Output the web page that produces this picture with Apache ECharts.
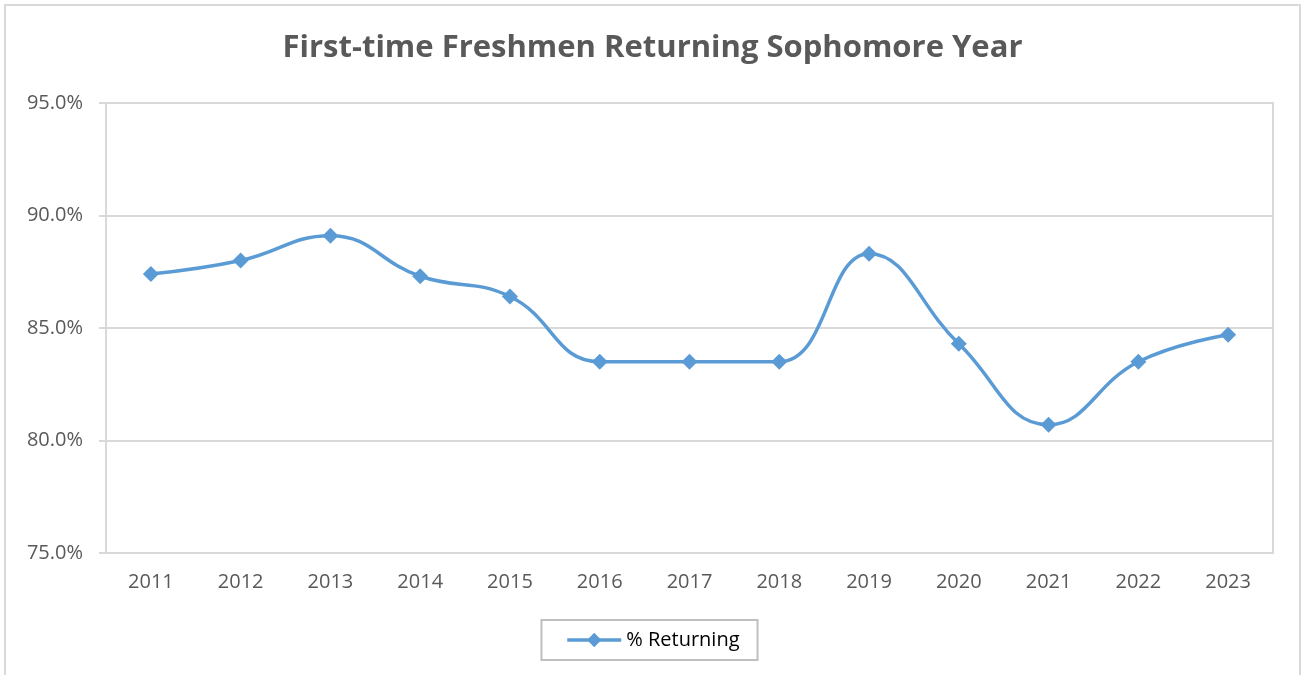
<!DOCTYPE html>
<html><head><meta charset="utf-8">
<script src="https://cdn.jsdelivr.net/npm/echarts@6/dist/echarts.min.js"></script>
<style>html,body{margin:0;padding:0;background:#fff}#c{width:1305px;height:675px}</style>
</head><body><div id="c"></div>
<script>
const years = ['2011','2012','2013','2014','2015','2016','2017','2018','2019','2020','2021','2022','2023'];
const returning = [87.4, 88.0, 89.1, 87.3, 86.4, 83.5, 83.5, 83.5, 88.3, 84.3, 80.7, 83.5, 84.7];
const seriesName = '% Returning';
const titleText = 'First-time Freshmen Returning Sophomore Year';

const chart = echarts.init(document.getElementById('c'), null, {renderer:'canvas'});
chart.setOption({
  animation:false,
  backgroundColor:'#fff',
  graphic:[{type:'rect',shape:{x:5,y:5,width:1295,height:680},style:{fill:'none',stroke:'#D9D9D9',lineWidth:2},silent:true}],
  title:{text:titleText,left:'center',top:28,textStyle:{fontFamily:'"Open Sans",sans-serif',fontWeight:'bold',fontSize:31,color:'#595959'}},
  legend:{bottom:15,left:'center',data:[seriesName],itemWidth:54,itemHeight:18,itemGap:6,padding:[10,18,10,24],
    borderColor:'#BFBFBF',borderWidth:2,borderRadius:0,
    lineStyle:{width:3.5,color:'#5B9BD5'},
    textStyle:{fontFamily:'"Open Sans",sans-serif',fontSize:20,color:'#000'}},
  grid:{left:106,right:32,top:103,bottom:122,show:true,borderColor:'#D9D9D9',borderWidth:2},
  xAxis:{type:'category',data:years,boundaryGap:true,
    axisLine:{lineStyle:{color:'#D9D9D9',width:2}},
    axisTick:{alignWithLabel:true,length:7,lineStyle:{color:'#D9D9D9',width:2}},
    axisLabel:{color:'#595959',fontSize:20,fontFamily:'"Open Sans",sans-serif',margin:19}},
  yAxis:{type:'value',min:75,max:95,interval:5,
    axisLine:{show:true,lineStyle:{color:'#D9D9D9',width:2}},
    axisTick:{show:true,length:7,lineStyle:{color:'#D9D9D9',width:2}},
    splitLine:{lineStyle:{color:'#D9D9D9',width:2}},
    axisLabel:{color:'#595959',fontSize:20,fontFamily:'"Open Sans",sans-serif',margin:23,formatter:v=>v.toFixed(1)+'%'}},
  series:[{name:seriesName,type:'line',data:returning,smooth:0.45,
    symbol:'diamond',symbolSize:16,
    lineStyle:{color:'#5B9BD5',width:3.5},itemStyle:{color:'#5B9BD5'}}]
});
</script></body></html>
